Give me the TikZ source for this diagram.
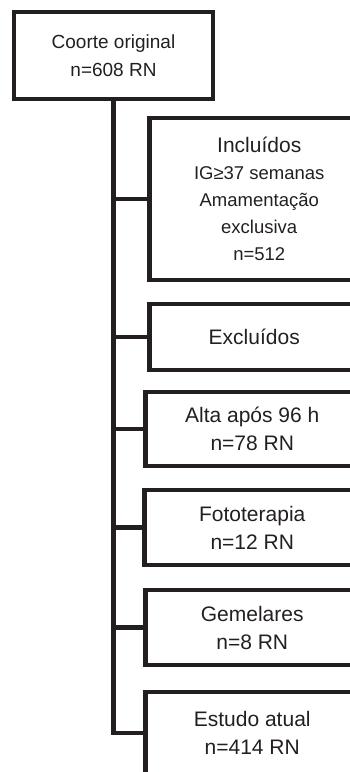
\documentclass[tikz,border=0pt]{standalone}
\usepackage{fontspec}
\setmainfont{Liberation Sans}
\definecolor{ink}{HTML}{231F20}

\begin{document}
\begin{tikzpicture}[x=1pt, y=-1pt, line width=4.5pt, box/.style = {draw=ink, text=ink, rectangle, align=center, inner sep=0pt, anchor=west, font=\fontsize{21}{28}\selectfont}]
        \useasboundingbox (0,0) rectangle (350,772);
        \clip (0,0) rectangle (350,772);

        \node [box, anchor=center, minimum width=199pt, minimum height=87pt, font=\fontsize{19}{28}\selectfont] (coorte) at (113.5, 55.5) {Coorte original\\n=608 RN};

        \node [box, minimum width=220pt, minimum height=162pt, font=\fontsize{18.5}{27}\selectfont] (inc) at (147, 199) {{\fontsize{21}{27}\selectfont Incluídos}\\IG≥37 semanas\\Amamentação\\exclusiva\\n=512};
        \node [box, minimum width=210pt, minimum height=66pt] (exc) at (147, 337) {Excluídos};
        \node [box, minimum width=214pt, minimum height=74pt] (alta) at (143, 429) {Alta após 96 h\\n=78 RN};
        \node [box, minimum width=216pt, minimum height=75pt] (foto) at (142, 527.5) {Fototerapia\\n=12 RN};
        \node [box, minimum width=214pt, minimum height=75pt] (gem) at (143, 627.5) {Gemelares\\n=8 RN};
        \node [box, minimum width=214pt, minimum height=82pt] (est) at (143, 733) {Estudo atual\\n=414 RN};

        \foreach \n in {inc, exc, alta, foto, gem}
                 {
                   \draw [ink] (coorte.south |- \n.west) -- (\n.west);
                 }
        \draw [ink] (coorte.south) |- (est.west);
\end{tikzpicture}
\end{document}
